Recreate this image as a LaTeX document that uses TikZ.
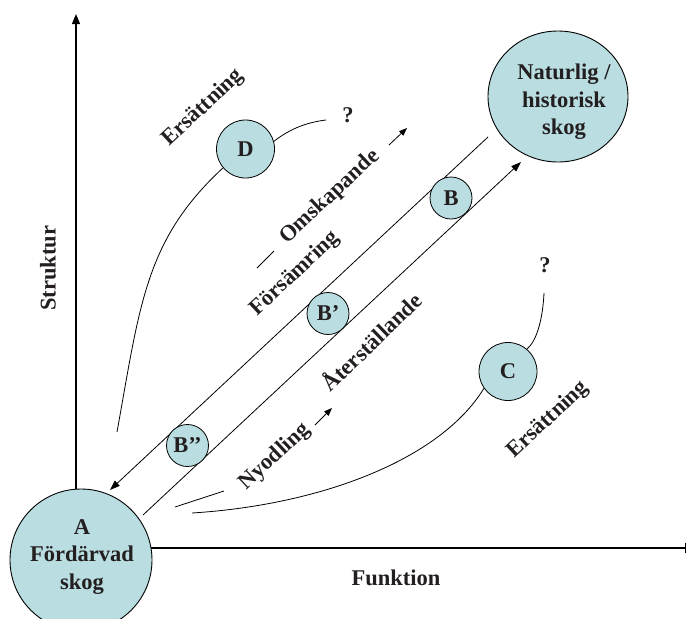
\documentclass[tikz,border=0pt]{standalone}
\usepackage{fontspec}
\setmainfont{Liberation Serif}
\usetikzlibrary{arrows.meta,shapes.geometric}
\definecolor{fillc}{RGB}{185,221,224}
\definecolor{txt}{RGB}{35,31,32}
\begin{document}
\begin{tikzpicture}[x=1pt,y=-1pt,
  lbl/.style={font=\fontsize{22.5}{27.5}\selectfont\bfseries, text=txt, inner sep=0pt},
  bigc/.style={draw=black, line width=0.9pt, fill=fillc, inner sep=0pt},
  smallc/.style={circle, draw=black, line width=0.8pt, fill=fillc, inner sep=0pt, minimum size=42pt, font=\fontsize{22.5}{27}\selectfont\bfseries, text=txt},
  midc/.style={smallc, minimum size=58pt},
  conn/.style={line width=0.8pt, draw=black},
  tip/.style={-{Triangle[length=10pt,width=7pt]}},
  smalltip/.style={-{Triangle[length=8pt,width=6pt]}},
  axis/.style={line width=1.2pt, draw=black}]
\useasboundingbox (0,0) rectangle (686,619);

% coordinates
\coordinate (ytop) at (76,14);
\coordinate (ybot) at (76,492);
\coordinate (xl) at (150,548);
\coordinate (xr) at (695,548);
\coordinate (u0) at (488,137);
\coordinate (u1) at (110,490);
\coordinate (l0) at (143,515);
\coordinate (l1) at (521,162);

% axes
\draw[axis,-{Triangle[length=10pt,width=8pt]}] (ybot) -- (ytop);
\draw[axis,-{Triangle[length=10pt,width=10pt]}] (xl) -- (xr);

% diagonal lines
\draw[conn,tip] (u0) -- (u1);
\draw[conn,tip] (l0) -- (l1);

% big circles
\node[bigc, circle, minimum size=142pt] (A) at (81,560) {};
\node[lbl, align=center] (Atext) at (82,557) {A\\Fördärvad\\skog};
\node[bigc, ellipse, minimum width=140pt, minimum height=131pt] (N) at (558,96.5) {};
\node[lbl, align=center] (Ntext) at (564,102) {Naturlig /\\historisk\\skog};

% small circles
\node[smallc] (B) at (451,198) {B};
\node[smallc] (Bp) at (328,313.5) {B’};
\node[smallc] (Bpp) at (187.5,445.5) {B’’};
\node[midc] (D) at (245.5,149) {D};
\node[midc] (C) at (508,371.5) {C};

% question marks
\node[lbl] (q1) at (348,115) {?};
\node[lbl] (q2) at (545,265) {?};

% curves
\coordinate (d0) at (117,432);
\draw[conn] (d0) .. controls (140,305) and (145,240) .. (D.220);
\coordinate (dq) at (326,120);
\draw[conn] (D.15) .. controls (292,127) and (310,122) .. (dq);
\coordinate (c0) at (192,513);
\draw[conn] (c0) .. controls (320,505) and (440,460) .. (C.215);
\coordinate (cq) at (544,293);
\draw[conn] (C.50) .. controls (538,340) and (543,315) .. (cq);
\coordinate (n0) at (175,507);
\coordinate (n1) at (224,491);
\draw[conn] (n0) -- (n1);

% rotated labels
\node[lbl, rotate=43] (E1) at (203,108) {Ersättning};
\node[lbl, rotate=43] (Om) at (330,197) {Omskapande};
\coordinate (om0) at (257,268);
\coordinate (om1) at (274,251);
\draw[conn] (om0) -- (om1);
\coordinate (oa0) at (389,145);
\coordinate (oa1) at (407,128);
\draw[conn,smalltip] (oa0) -- (oa1);
\node[lbl, rotate=43] (Fo) at (295,274) {Försämring};
\node[lbl, rotate=44] (At) at (371,341) {Återställande};
\node[lbl, rotate=43] (Ny) at (275,457) {Nyodling};
\coordinate (na0) at (315,425);
\coordinate (na1) at (332,408);
\draw[conn,smalltip] (na0) -- (na1);
\node[lbl, rotate=43] (E2) at (548,420) {Ersättning};

% axis labels
\node[lbl, rotate=90] (St) at (48,268) {Struktur};
\node[lbl] (Fu) at (396,578) {Funktion};
\end{tikzpicture}
\end{document}
